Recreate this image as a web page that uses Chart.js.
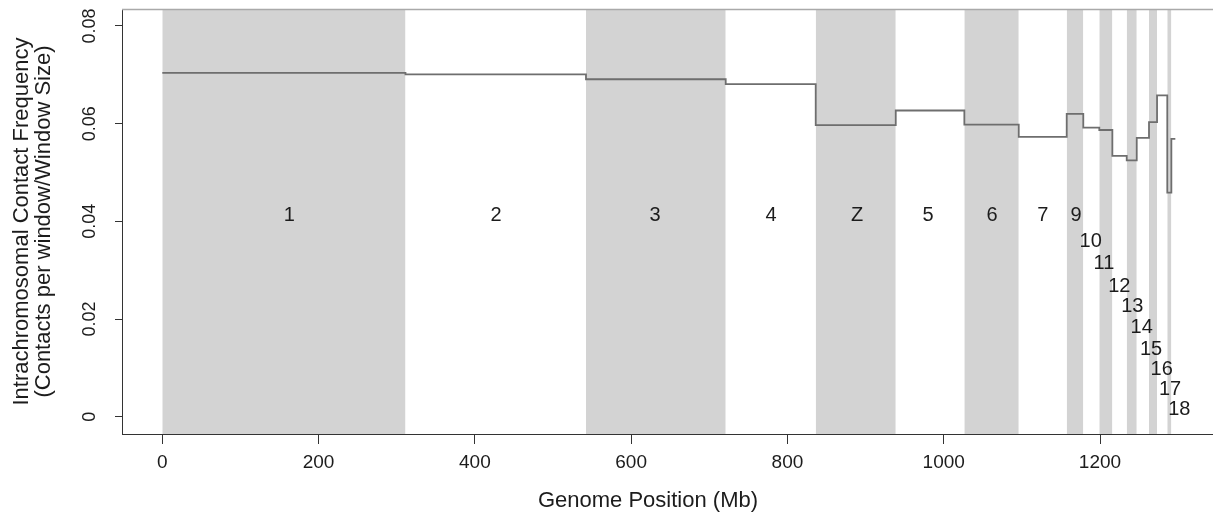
<!DOCTYPE html>
<html>
<head>
<meta charset="utf-8">
<title>Intrachromosomal contact frequency</title>
<script src="https://cdn.jsdelivr.net/npm/chart.js@4.4.1/dist/chart.umd.min.js"></script>
<style>
  html, body { margin: 0; padding: 0; background: #fff; overflow: hidden; }
  #wrap { position: relative; width: 1213px; height: 523px; }
</style>
</head>
<body>
<div id="wrap"><canvas id="contactChart"></canvas></div>
<script>
const chromNames = ["1", "2", "3", "4", "Z", "5", "6", "7", "9", "10", "11", "12", "13", "14", "15", "16", "17", "18"];
const chromStarts = [0, 311.2, 542.2, 721.0, 836.2, 938.6, 1026.4, 1096.0, 1157.4, 1178.6, 1199.1, 1215.8, 1234.2, 1247.0, 1262.7, 1273.0, 1286.1, 1291.3];
const chromEnd = 1296.4;
const contactFreq = [0.0704, 0.0701, 0.0691, 0.0681, 0.0597, 0.0627, 0.0598, 0.0573, 0.0620, 0.0592, 0.0587, 0.0534, 0.0525, 0.0571, 0.0603, 0.0658, 0.0459, 0.0569];
const labelX = [162.5, 427, 630.5, 779, 889, 980, 1062, 1126.7, 1169.3, 1188.1, 1205.1, 1224.7, 1241.4, 1253.4, 1265.3, 1279, 1289.6, 1301.5];
const labelY = [0.0412, 0.0412, 0.0412, 0.0412, 0.0412, 0.0412, 0.0412, 0.0412, 0.0412, 0.0358, 0.0314, 0.0266, 0.0225, 0.0183, 0.0138, 0.0097, 0.0056, 0.0014];
const xTicks = [0, 200, 400, 600, 800, 1000, 1200];
const yTicks = [0, 0.02, 0.04, 0.06, 0.08];
const yTickLabels = ["0", "0.02", "0.04", "0.06", "0.08"];

const xRange = { min: -51.57, max: 1344.6 };
const yRange = { min: -0.003542, max: 0.08348 };
const textColor = "#1c1c1c";
const fontFamily = "'Liberation Sans', Arial, Helvetica, sans-serif";

Chart.defaults.font.family = fontFamily;
Chart.defaults.color = textColor;

// grey background bands for every other chromosome
const bandSets = [];
chromStarts.forEach((start, i) => {
  if (i % 2 !== 0) return;
  const end = i + 1 < chromStarts.length ? chromStarts[i + 1] : chromEnd;
  bandSets.push({
    type: "line",
    data: [{ x: start, y: yRange.max }, { x: end, y: yRange.max }],
    fill: "start",
    backgroundColor: "#d3d3d3",
    borderWidth: 0,
    pointRadius: 0,
    order: 1
  });
});

const stepPoints = chromStarts.map((s, i) => ({ x: s, y: contactFreq[i] }));
stepPoints.push({ x: chromEnd, y: contactFreq[contactFreq.length - 1] });

const textPlugin = {
  id: "rText",
  afterDraw(chart) {
    const { ctx, chartArea } = chart;
    const xs = chart.scales.x;
    const ys = chart.scales.y;
    ctx.save();

    // top frame line
    ctx.strokeStyle = "#a9a9a9";
    ctx.lineWidth = 1.5;
    ctx.beginPath();
    ctx.moveTo(chartArea.left, chartArea.top + 0.5);
    ctx.lineTo(chartArea.right, chartArea.top + 0.5);
    ctx.stroke();

    ctx.fillStyle = textColor;
    ctx.textAlign = "center";
    ctx.textBaseline = "middle";

    // y tick labels, rotated like R's las=0
    ctx.font = "18px " + fontFamily;
    yTicks.forEach((v, i) => {
      ctx.save();
      ctx.translate(90, ys.getPixelForValue(v));
      ctx.rotate(-Math.PI / 2);
      ctx.fillText(yTickLabels[i], 0, 0);
      ctx.restore();
    });

    // y title, two lines
    ctx.font = "22px " + fontFamily;
    const midY = (chartArea.top + chartArea.bottom) / 2;
    [["Intrachromosomal Contact Frequency", 22], ["(Contacts per window/Window Size)", 44]].forEach(([t, x]) => {
      ctx.save();
      ctx.translate(x, midY);
      ctx.rotate(-Math.PI / 2);
      ctx.fillText(t, 0, 0);
      ctx.restore();
    });

    // x title
    ctx.fillText("Genome Position (Mb)", 648, 501);

    // chromosome names
    ctx.font = "20px " + fontFamily;
    chromNames.forEach((name, i) => {
      ctx.fillText(name, xs.getPixelForValue(labelX[i]), ys.getPixelForValue(labelY[i]));
    });

    ctx.restore();
  }
};

new Chart(document.getElementById("contactChart"), {
  type: "line",
  data: {
    datasets: [
      {
        data: stepPoints,
        stepped: "before",
        borderColor: "#6e6e6e",
        borderWidth: 1.8,
        pointRadius: 0,
        fill: false,
        order: 0
      },
      ...bandSets
    ]
  },
  options: {
    responsive: true,
    maintainAspectRatio: false,
    animation: false,
    layout: { padding: { top: 9, right: 0, left: 0, bottom: 0 } },
    plugins: {
      legend: { display: false },
      tooltip: { enabled: false }
    },
    scales: {
      x: {
        type: "linear",
        min: xRange.min,
        max: xRange.max,
        afterBuildTicks: (s) => { s.ticks = xTicks.map((v) => ({ value: v })); },
        afterFit: (s) => { s.height = 89; },
        ticks: {
          font: { size: 19 },
          color: textColor,
          padding: 7,
          maxRotation: 0,
          callback: (v) => String(v)
        },
        grid: { drawOnChartArea: false, tickLength: 10, color: "#333" },
        border: { color: "#333", width: 1 }
      },
      y: {
        type: "linear",
        min: yRange.min,
        max: yRange.max,
        afterBuildTicks: (s) => { s.ticks = yTicks.map((v) => ({ value: v })); },
        afterFit: (s) => { s.width = 122; },
        ticks: { display: false },
        grid: { drawOnChartArea: false, tickLength: 7, color: "#333" },
        border: { color: "#333", width: 1 }
      }
    }
  },
  plugins: [textPlugin]
});
</script>
</body>
</html>
